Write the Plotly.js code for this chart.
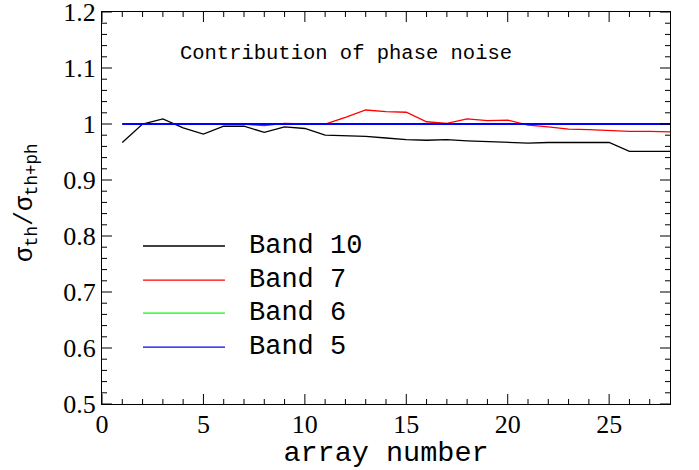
<!DOCTYPE html>
<html>
<head>
<meta charset="utf-8">
<script src="https://cdn.plot.ly/plotly-3.0.1.min.js"></script>
<style>html,body{margin:0;padding:0;background:#fff;}#chart{width:699px;height:470px;}</style>
</head>
<body>
<div id="chart"></div>
<script>
// ---- data ----
const arrayNumber = [1,2,3,4,5,6,7,8,9,10,11,12,13,14,15,16,17,18,19,20,21,22,23,24,25,26,27,28];
const band10 = [0.967,1.000,1.009,0.993,0.982,0.996,0.996,0.985,0.995,0.992,0.980,0.979,0.978,0.975,0.972,0.971,0.972,0.970,0.969,0.968,0.966,0.967,0.967,0.967,0.967,0.951,0.951,0.951];
const band7  = [1.000,1.000,1.000,1.000,1.000,1.000,1.000,0.997,1.001,1.000,1.000,1.012,1.025,1.022,1.021,1.004,1.001,1.009,1.006,1.007,0.998,0.995,0.991,0.990,0.988,0.987,0.987,0.986];
const band6  = [1,1,1,1,1,1,1,1,1,1,1,1,1,1,1,1,1,1,1,1,1,1,1,1,1,1,1,1];
const band5  = [1,1,1,1,1,1,1,1,1,1,1,1,1,1,1,1,1,1,1,1,1,1,1,1,1,1,1,1];
const seriesNames  = ["Band 10","Band 7","Band 6","Band 5"];
const seriesValues = [band10, band7, band6, band5];
const seriesColors = ["#000000","#ff0000","#00ff00","#0000ff"];
const titleText = "Contribution of phase noise";
const xTitle = "array number";
const yTitle = "σ<sub>th</sub>/σ<sub>th+ph</sub>";

// axis tick values
const xRange = [0, 28];
const yRange = [0.5, 1.2];
const xMajorTicks = [0,5,10,15,20,25];
const xMinorTicks = [1,2,3,4,6,7,8,9,11,12,13,14,16,17,18,19,21,22,23,24,26,27];
const yMajorTicks = [0.5,0.6,0.7,0.8,0.9,1.0,1.1,1.2];
const yMinorTicks = [0.52,0.54,0.56,0.58,0.62,0.64,0.66,0.68,0.72,0.74,0.76,0.78,0.82,0.84,0.86,0.88,0.92,0.94,0.96,0.98,1.02,1.04,1.06,1.08,1.12,1.14,1.16,1.18];

const mono = "Liberation Mono, Courier New, monospace";
const serif = "Liberation Serif, Times New Roman, serif";

const lineWidths = [1.3, 1.3, 1.3, 1.8];
const traces = seriesValues.map((vals, i) => ({
  x: arrayNumber, y: vals, type: "scatter", mode: "lines", name: seriesNames[i],
  line: {color: seriesColors[i], width: lineWidths[i]}, showlegend: false, hoverinfo: "skip"
}));

// inward tick marks on all four sides, anchored in axis units with pixel lengths
const shapes = [];
const tickLine = {color: "#000", width: 1};
function addXTicks(vals, len) {
  vals.forEach(v => {
    shapes.push({type: "line", xref: "x", yref: "y", ysizemode: "pixel", yanchor: yRange[0], x0: v, x1: v, y0: 0, y1: len, line: tickLine});
    shapes.push({type: "line", xref: "x", yref: "y", ysizemode: "pixel", yanchor: yRange[1], x0: v, x1: v, y0: 0, y1: -len, line: tickLine});
  });
}
function addYTicks(vals, len) {
  vals.forEach(v => {
    shapes.push({type: "line", xref: "x", yref: "y", xsizemode: "pixel", xanchor: xRange[0], y0: v, y1: v, x0: 0, x1: len, line: tickLine});
    shapes.push({type: "line", xref: "x", yref: "y", xsizemode: "pixel", xanchor: xRange[1], y0: v, y1: v, x0: 0, x1: -len, line: tickLine});
  });
}
addXTicks(xMajorTicks, 10); addXTicks(xMinorTicks, 5);
addYTicks(yMajorTicks, 10); addYTicks(yMinorTicks, 5);

// legend drawn as paper-referenced samples
const legY = [0.403, 0.316, 0.232, 0.145];
seriesNames.forEach((n, i) => shapes.push({
  type: "line", xref: "paper", yref: "paper",
  x0: 0.0722, x1: 0.2165, y0: legY[i], y1: legY[i],
  line: {color: seriesColors[i], width: 1.3}
}));
const annotations = seriesNames.map((n, i) => ({
  xref: "paper", yref: "paper", x: 0.2553, y: legY[i], xanchor: "left", yanchor: "middle",
  text: n, showarrow: false, font: {family: mono, size: 27, color: "#000"}
}));
annotations.push({
  xref: "paper", yref: "paper", x: -0.132, y: 0.5128, xanchor: "center", yanchor: "middle",
  text: yTitle, textangle: -90, showarrow: false, font: {family: mono, size: 25, color: "#000"}
});

const layout = {
  width: 699, height: 470,
  margin: {l: 102, r: 29, t: 12, b: 66, pad: 0},
  paper_bgcolor: "#fff", plot_bgcolor: "#fff",
  title: {text: titleText, font: {family: mono, size: 20.5, color: "#000"},
          xref: "container", yref: "container", x: 0.495, y: 0.889, xanchor: "center", yanchor: "middle"},
  xaxis: {
    range: xRange, tickmode: "array", tickvals: xMajorTicks, showgrid: false, zeroline: false,
    showline: true, linecolor: "#000", mirror: true,
    ticks: "inside", ticklen: 10, tickcolor: "rgba(0,0,0,0)",
    tickfont: {family: serif, size: 26, color: "#000"}, ticklabelstandoff: -3,
    title: {text: xTitle, font: {family: mono, size: 28.5, color: "#000"}, standoff: 6}
  },
  yaxis: {
    range: [yRange[0], yRange[1] + 0.00001], tickmode: "array", tickvals: yMajorTicks, showgrid: false, zeroline: false,
    showline: true, linecolor: "#000", mirror: true,
    ticks: "inside", ticklen: 10, tickcolor: "rgba(0,0,0,0)", ticklabeloverflow: "allow",
    tickfont: {family: serif, size: 26, color: "#000"}
  },
  shapes: shapes, annotations: annotations, showlegend: false
};

Plotly.newPlot("chart", traces, layout, {displayModeBar: false});
</script>
</body>
</html>
